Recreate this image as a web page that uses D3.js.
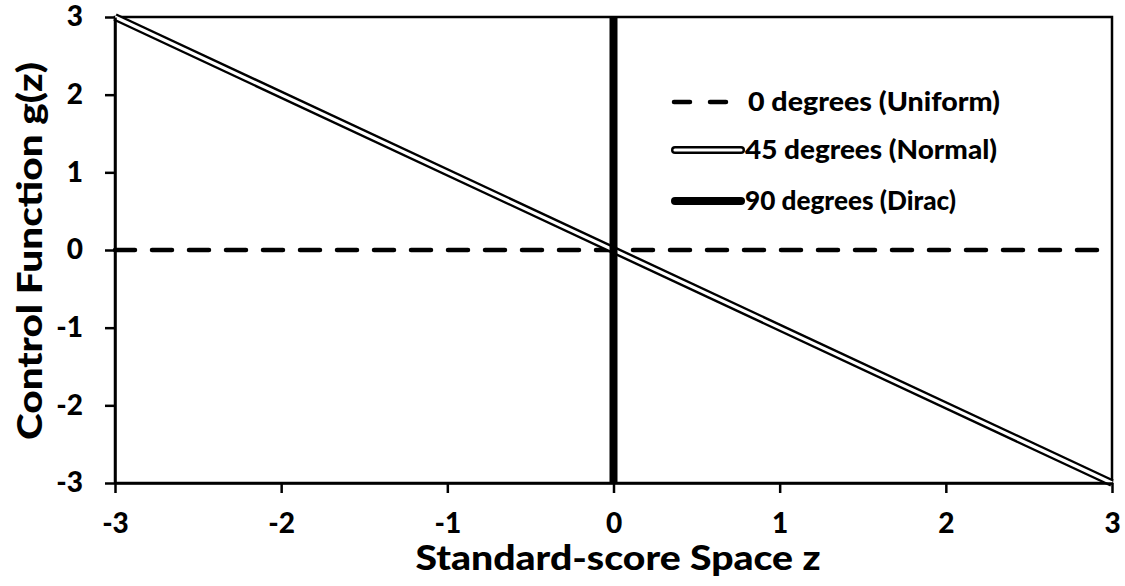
<!DOCTYPE html>
<html><head><meta charset="utf-8">
<script src="https://d3js.org/d3.v7.min.js"></script>
<style>body{margin:0;background:#fff;} text{font-family:Lato,"Open Sans",sans-serif;font-weight:900;fill:#000;}</style>
</head><body><svg id="c" width="1125" height="586"></svg>
<script>
const xTicks = [-3,-2,-1,0,1,2,3];
const yTicks = [-3,-2,-1,0,1,2,3];
const uniformZ = [-3, 3], uniformG = [0, 0];
const normalZ = [-3, 3], normalG = [3, -3];
const diracZ = [0, 0], diracG = [-3, 3];
const seriesNames = ["0 degrees (Uniform)","45 degrees (Normal)","90 degrees (Dirac)"];
const xTitle = "Standard-score Space z", yTitle = "Control Function g(z)";

const svg = d3.select("#c");
const L=115, R=1112, T=17, B=483;
const x = d3.scaleLinear().domain([-3,3]).range([L,R]);
const y = d3.scaleLinear().domain([-3,3]).range([B,T]);
const line = d3.line().x(d=>x(d[0])).y(d=>y(d[1]));
const fmt = d => String(d);

const plot = svg.append("g");
plot.append("rect").attr("x",L).attr("y",T).attr("width",R-L).attr("height",B-T)
  .attr("fill","none").attr("stroke","#000").attr("stroke-width",2.5);

plot.append("path").datum(d3.zip(uniformZ,uniformG)).attr("d",line)
  .attr("fill","none").attr("stroke","#000").attr("stroke-width",4.5)
  .attr("stroke-dasharray","20,17").attr("stroke-linecap","round");
const nd = d3.zip(normalZ,normalG);
plot.append("path").datum(nd).attr("d",line).attr("fill","none").attr("stroke","#000").attr("stroke-width",8);
plot.append("path").datum(nd).attr("d",line).attr("fill","none").attr("stroke","#fff").attr("stroke-width",3.2);
plot.append("path").datum(d3.zip(diracZ,diracG)).attr("d",line)
  .attr("fill","none").attr("stroke","#000").attr("stroke-width",8);

const xa = svg.append("g").attr("transform",`translate(0,${B})`)
  .call(d3.axisBottom(x).tickValues(xTicks).tickSize(10).tickSizeOuter(0).tickPadding(20).tickFormat(fmt));
const ya = svg.append("g").attr("transform",`translate(${L},0)`)
  .call(d3.axisLeft(y).tickValues(yTicks).tickSize(10).tickSizeOuter(0).tickPadding(22).tickFormat(fmt));
[xa,ya].forEach(a=>{a.select(".domain").attr("stroke","#000").attr("stroke-width",2.5);
  a.selectAll(".tick line").attr("stroke","#000").attr("stroke-width",2.5);
  a.selectAll(".tick text").style("font-size","28px").style("font-family","Lato").style("font-weight","900").attr("fill","#000");});

svg.append("text").attr("x",618).attr("y",570).attr("text-anchor","middle")
  .attr("textLength",405).attr("lengthAdjust","spacingAndGlyphs")
  .style("font-size","34px").text(xTitle);
svg.append("text").attr("transform",`translate(42,251) rotate(-90)`).attr("text-anchor","middle")
  .attr("textLength",378).attr("lengthAdjust","spacingAndGlyphs")
  .style("font-size","34px").text(yTitle);

const lg = svg.append("g");
const rows = [102,150,201];
const lx0=672, lx1=744;
lg.append("line").attr("x1",lx0+2).attr("x2",lx1-16).attr("y1",rows[0]).attr("y2",rows[0])
  .attr("stroke","#000").attr("stroke-width",4.5).attr("stroke-dasharray","16,20").attr("stroke-linecap","round");
lg.append("line").attr("x1",lx0+3).attr("x2",lx1-3).attr("y1",rows[1]).attr("y2",rows[1])
  .attr("stroke","#000").attr("stroke-width",8).attr("stroke-linecap","round");
lg.append("line").attr("x1",lx0+3).attr("x2",lx1-3).attr("y1",rows[1]).attr("y2",rows[1])
  .attr("stroke","#fff").attr("stroke-width",3.2).attr("stroke-linecap","round");
lg.append("line").attr("x1",lx0+3).attr("x2",lx1-3).attr("y1",rows[2]).attr("y2",rows[2])
  .attr("stroke","#000").attr("stroke-width",8).attr("stroke-linecap","round");
const lens = [252, 252, 211];
seriesNames.forEach((n,i)=>{
  lg.append("text").attr("x",i===0?748:745).attr("y",rows[i]).attr("dy","0.36em")
    .attr("textLength",lens[i]).attr("lengthAdjust","spacingAndGlyphs")
    .style("font-size","26px").text(n);
});
</script></body></html>
